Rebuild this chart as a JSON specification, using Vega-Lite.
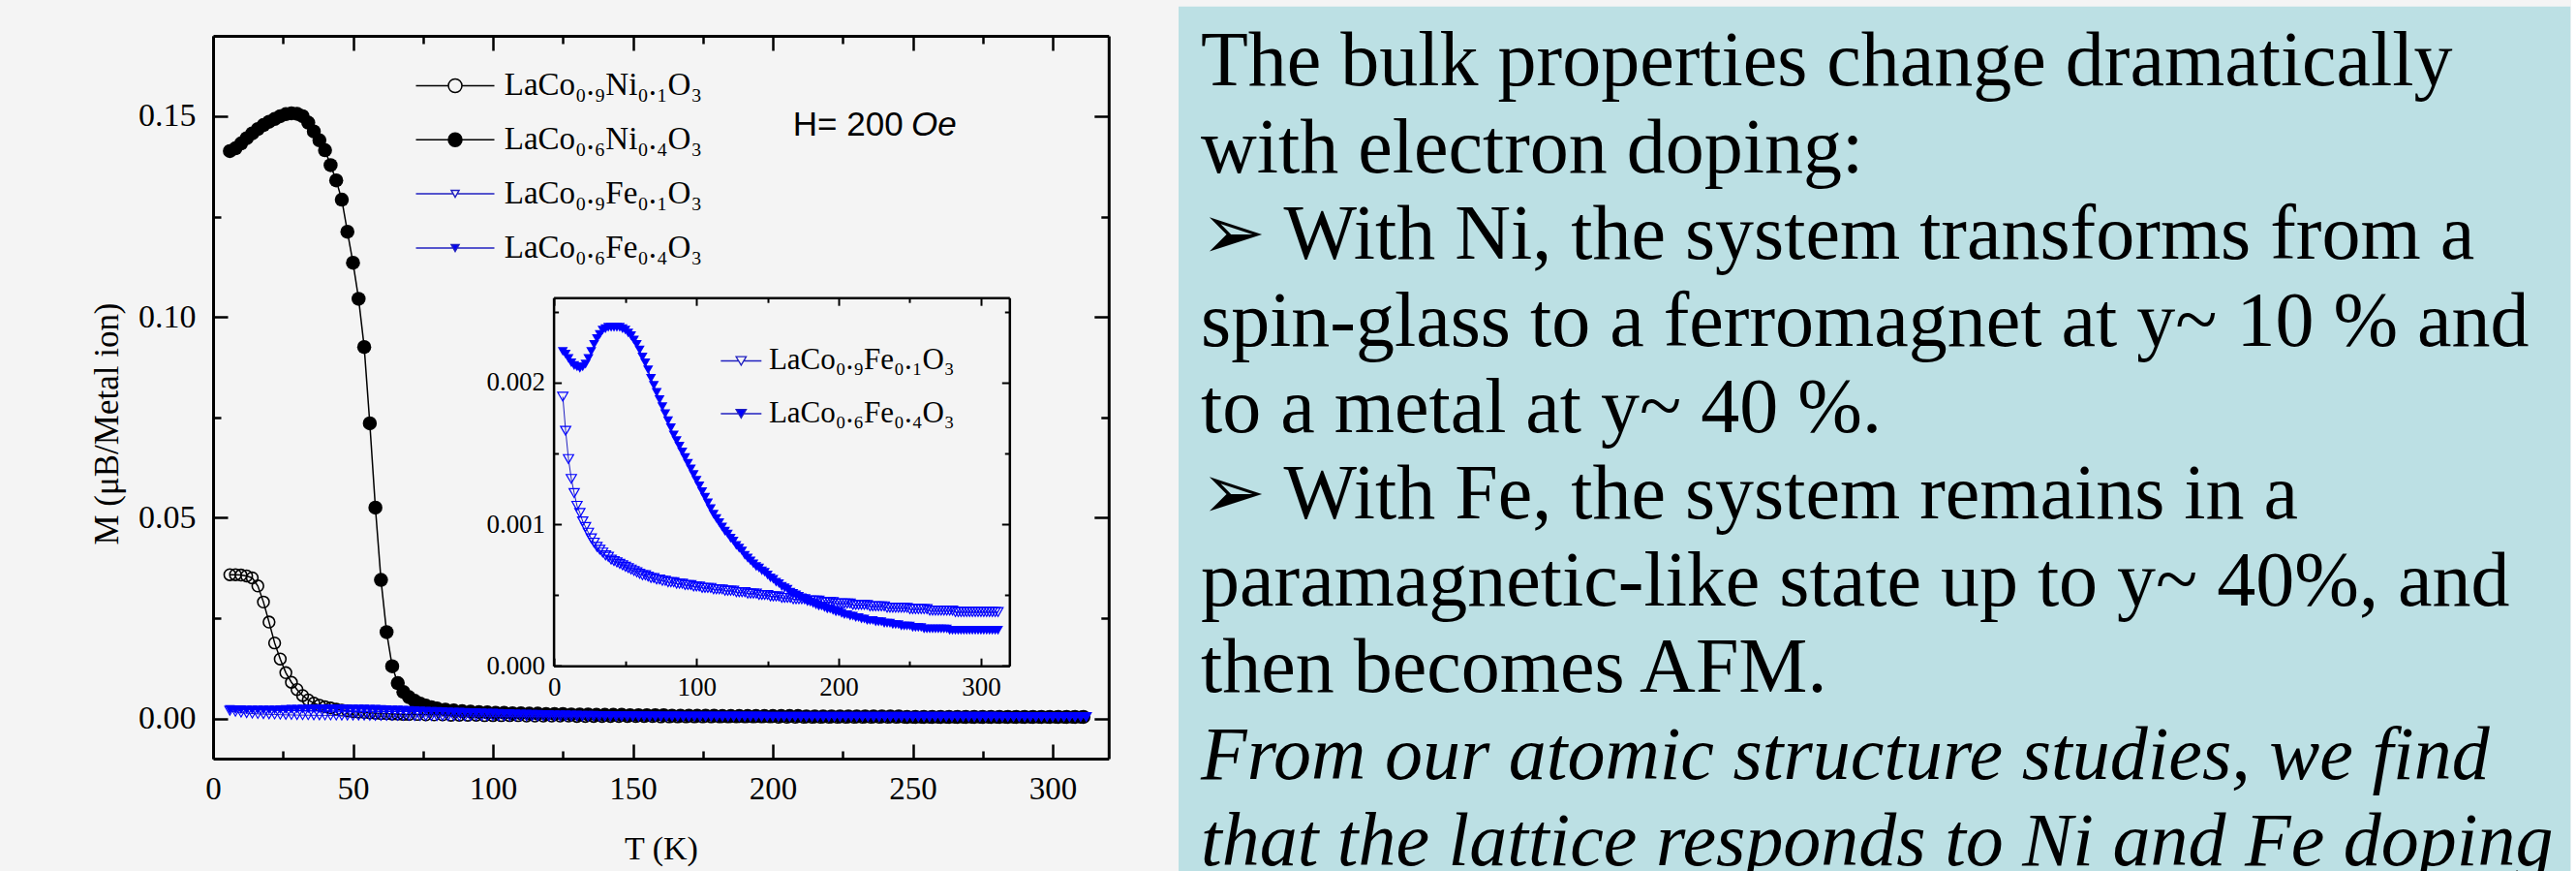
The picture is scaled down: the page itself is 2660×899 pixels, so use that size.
{
"$schema": "https://vega.github.io/schema/vega-lite/v6.json",
"background": "#f4f4f4",
"padding": {"left": 93, "top": 6.7, "right": 0, "bottom": 0},
"config": {
  "view": {"stroke": null},
  "axis": {"domainColor": "black", "tickColor": "black", "labelColor": "black", "labelFont": "Liberation Serif", "titleFont": "Liberation Serif", "titleColor": "black", "titleFontWeight": "normal", "grid": false, "labelFlush": false, "labelOverlap": false, "tickWidth": 2.5, "domainWidth": 3},
  "legend": {"labelFont": "Liberation Serif", "labelColor": "black"}
},
"datasets": {
"ni01": [{"T":6,"M":0.0358},{"T":8,"M":0.0358},{"T":10,"M":0.0357},{"T":12,"M":0.0355},{"T":14,"M":0.035},{"T":16,"M":0.033},{"T":18,"M":0.029},{"T":20,"M":0.024},{"T":22,"M":0.0188},{"T":24,"M":0.0148},{"T":26,"M":0.0114},{"T":28,"M":0.009},{"T":30,"M":0.0072},{"T":32,"M":0.0057},{"T":34,"M":0.0046},{"T":36,"M":0.0038},{"T":38,"M":0.0033},{"T":40,"M":0.0029},{"T":42,"M":0.0026},{"T":44,"M":0.0023},{"T":46,"M":0.0021},{"T":48,"M":0.0019},{"T":50,"M":0.0017},{"T":52,"M":0.0016},{"T":54,"M":0.0015},{"T":56,"M":0.0014},{"T":58,"M":0.0013},{"T":60,"M":0.0012},{"T":62,"M":0.0012},{"T":64,"M":0.0011},{"T":66,"M":0.0011},{"T":68,"M":0.001},{"T":70,"M":0.001},{"T":73,"M":0.001},{"T":76,"M":0.0009},{"T":79,"M":0.0009},{"T":82,"M":0.0009},{"T":85,"M":0.0008},{"T":88,"M":0.0008},{"T":91,"M":0.0008},{"T":94,"M":0.0008},{"T":97,"M":0.0007},{"T":100,"M":0.0007},{"T":103,"M":0.0007},{"T":106,"M":0.0007},{"T":109,"M":0.0007},{"T":112,"M":0.0006},{"T":115,"M":0.0006},{"T":118,"M":0.0006},{"T":121,"M":0.0006},{"T":124,"M":0.0006},{"T":127,"M":0.0006},{"T":130,"M":0.0005},{"T":133,"M":0.0005},{"T":136,"M":0.0005},{"T":139,"M":0.0005},{"T":142,"M":0.0005},{"T":145,"M":0.0005},{"T":148,"M":0.0005},{"T":151,"M":0.0005},{"T":154,"M":0.0005},{"T":157,"M":0.0005},{"T":160,"M":0.0004},{"T":163,"M":0.0004},{"T":166,"M":0.0004},{"T":169,"M":0.0004},{"T":172,"M":0.0004},{"T":175,"M":0.0004},{"T":178,"M":0.0004},{"T":181,"M":0.0004},{"T":184,"M":0.0004},{"T":187,"M":0.0004},{"T":190,"M":0.0004},{"T":193,"M":0.0004},{"T":196,"M":0.0004},{"T":199,"M":0.0004},{"T":202,"M":0.0003},{"T":205,"M":0.0003},{"T":208,"M":0.0003},{"T":211,"M":0.0003},{"T":214,"M":0.0003},{"T":217,"M":0.0003},{"T":220,"M":0.0003},{"T":223,"M":0.0003},{"T":226,"M":0.0003},{"T":229,"M":0.0003},{"T":232,"M":0.0003},{"T":235,"M":0.0003},{"T":238,"M":0.0003},{"T":241,"M":0.0003},{"T":244,"M":0.0003},{"T":247,"M":0.0003},{"T":250,"M":0.0003},{"T":253,"M":0.0003},{"T":256,"M":0.0003},{"T":259,"M":0.0003},{"T":262,"M":0.0003},{"T":265,"M":0.0003},{"T":268,"M":0.0003},{"T":271,"M":0.0003},{"T":274,"M":0.0003},{"T":277,"M":0.0003},{"T":280,"M":0.0003},{"T":283,"M":0.0003},{"T":286,"M":0.0003},{"T":289,"M":0.0003},{"T":292,"M":0.0003},{"T":295,"M":0.0003},{"T":298,"M":0.0003},{"T":301,"M":0.0003},{"T":304,"M":0.0003},{"T":307,"M":0.0003},{"T":310,"M":0.0003}],
"ni04": [{"T":6,"M":0.1413},{"T":8,"M":0.142},{"T":10,"M":0.1432},{"T":12,"M":0.1445},{"T":14,"M":0.1457},{"T":16,"M":0.1468},{"T":18,"M":0.1478},{"T":20,"M":0.1486},{"T":22,"M":0.1493},{"T":24,"M":0.15},{"T":26,"M":0.1505},{"T":28,"M":0.1507},{"T":30,"M":0.1506},{"T":32,"M":0.15},{"T":34,"M":0.1484},{"T":36,"M":0.1462},{"T":38,"M":0.144},{"T":40,"M":0.1415},{"T":42,"M":0.1378},{"T":44,"M":0.134},{"T":46,"M":0.1292},{"T":48,"M":0.1212},{"T":50,"M":0.1135},{"T":52,"M":0.1045},{"T":54,"M":0.0925},{"T":56,"M":0.0735},{"T":58,"M":0.0525},{"T":60,"M":0.0345},{"T":62,"M":0.0215},{"T":64,"M":0.013},{"T":66,"M":0.0088},{"T":68,"M":0.0066},{"T":70,"M":0.0053},{"T":72,"M":0.0044},{"T":74,"M":0.0037},{"T":76,"M":0.0032},{"T":78,"M":0.0028},{"T":80,"M":0.0025},{"T":83,"M":0.0022},{"T":86,"M":0.002},{"T":89,"M":0.0018},{"T":92,"M":0.0017},{"T":95,"M":0.0016},{"T":98,"M":0.0015},{"T":101,"M":0.0014},{"T":104,"M":0.0014},{"T":107,"M":0.0013},{"T":110,"M":0.0013},{"T":113,"M":0.0012},{"T":116,"M":0.0012},{"T":119,"M":0.0011},{"T":122,"M":0.0011},{"T":125,"M":0.0011},{"T":128,"M":0.001},{"T":131,"M":0.001},{"T":134,"M":0.001},{"T":137,"M":0.0009},{"T":140,"M":0.0009},{"T":143,"M":0.0009},{"T":146,"M":0.0009},{"T":149,"M":0.0008},{"T":152,"M":0.0008},{"T":155,"M":0.0008},{"T":158,"M":0.0008},{"T":161,"M":0.0008},{"T":164,"M":0.0007},{"T":167,"M":0.0007},{"T":170,"M":0.0007},{"T":173,"M":0.0007},{"T":176,"M":0.0007},{"T":179,"M":0.0007},{"T":182,"M":0.0006},{"T":185,"M":0.0006},{"T":188,"M":0.0006},{"T":191,"M":0.0006},{"T":194,"M":0.0006},{"T":197,"M":0.0006},{"T":200,"M":0.0006},{"T":203,"M":0.0006},{"T":206,"M":0.0006},{"T":209,"M":0.0006},{"T":212,"M":0.0005},{"T":215,"M":0.0005},{"T":218,"M":0.0005},{"T":221,"M":0.0005},{"T":224,"M":0.0005},{"T":227,"M":0.0005},{"T":230,"M":0.0005},{"T":233,"M":0.0005},{"T":236,"M":0.0005},{"T":239,"M":0.0005},{"T":242,"M":0.0005},{"T":245,"M":0.0005},{"T":248,"M":0.0004},{"T":251,"M":0.0004},{"T":254,"M":0.0004},{"T":257,"M":0.0004},{"T":260,"M":0.0004},{"T":263,"M":0.0004},{"T":266,"M":0.0004},{"T":269,"M":0.0004},{"T":272,"M":0.0004},{"T":275,"M":0.0004},{"T":278,"M":0.0004},{"T":281,"M":0.0004},{"T":284,"M":0.0004},{"T":287,"M":0.0004},{"T":290,"M":0.0004},{"T":293,"M":0.0004},{"T":296,"M":0.0004},{"T":299,"M":0.0004},{"T":302,"M":0.0004},{"T":305,"M":0.0004},{"T":308,"M":0.0004},{"T":311,"M":0.0004}],
"fe01": [{"T":6,"M":0.0019},{"T":8,"M":0.00166},{"T":10,"M":0.00146},{"T":12,"M":0.00132},{"T":14,"M":0.00122},{"T":16,"M":0.00113},{"T":18,"M":0.00108},{"T":20,"M":0.00102},{"T":22,"M":0.00098},{"T":24,"M":0.00094},{"T":26,"M":0.0009},{"T":28,"M":0.00087},{"T":30,"M":0.00084},{"T":32,"M":0.00082},{"T":34,"M":0.0008},{"T":36,"M":0.00078},{"T":38,"M":0.00077},{"T":40,"M":0.00075},{"T":42,"M":0.00074},{"T":44,"M":0.00073},{"T":46,"M":0.00072},{"T":48,"M":0.00071},{"T":50,"M":0.0007},{"T":52,"M":0.00069},{"T":54,"M":0.00068},{"T":56,"M":0.00067},{"T":58,"M":0.00066},{"T":60,"M":0.00065},{"T":62,"M":0.00064},{"T":64,"M":0.00064},{"T":66,"M":0.00063},{"T":68,"M":0.00062},{"T":70,"M":0.00062},{"T":72,"M":0.00061},{"T":74,"M":0.00061},{"T":76,"M":0.0006},{"T":78,"M":0.0006},{"T":80,"M":0.00059},{"T":82,"M":0.00059},{"T":84,"M":0.00059},{"T":86,"M":0.00058},{"T":88,"M":0.00058},{"T":90,"M":0.00058},{"T":92,"M":0.00057},{"T":94,"M":0.00057},{"T":96,"M":0.00057},{"T":98,"M":0.00056},{"T":100,"M":0.00056},{"T":102,"M":0.00056},{"T":104,"M":0.00055},{"T":106,"M":0.00055},{"T":108,"M":0.00055},{"T":110,"M":0.00055},{"T":112,"M":0.00054},{"T":114,"M":0.00054},{"T":116,"M":0.00054},{"T":118,"M":0.00054},{"T":120,"M":0.00053},{"T":122,"M":0.00053},{"T":124,"M":0.00053},{"T":126,"M":0.00053},{"T":128,"M":0.00052},{"T":130,"M":0.00052},{"T":132,"M":0.00052},{"T":134,"M":0.00052},{"T":136,"M":0.00051},{"T":138,"M":0.00051},{"T":140,"M":0.00051},{"T":142,"M":0.00051},{"T":144,"M":0.0005},{"T":146,"M":0.0005},{"T":148,"M":0.0005},{"T":150,"M":0.0005},{"T":152,"M":0.00049},{"T":154,"M":0.00049},{"T":156,"M":0.00049},{"T":158,"M":0.00049},{"T":160,"M":0.00048},{"T":162,"M":0.00048},{"T":164,"M":0.00048},{"T":166,"M":0.00048},{"T":168,"M":0.00047},{"T":170,"M":0.00047},{"T":172,"M":0.00047},{"T":174,"M":0.00047},{"T":176,"M":0.00047},{"T":178,"M":0.00046},{"T":180,"M":0.00046},{"T":182,"M":0.00046},{"T":184,"M":0.00046},{"T":186,"M":0.00046},{"T":188,"M":0.00045},{"T":190,"M":0.00045},{"T":192,"M":0.00045},{"T":194,"M":0.00045},{"T":196,"M":0.00045},{"T":198,"M":0.00044},{"T":200,"M":0.00044},{"T":202,"M":0.00044},{"T":204,"M":0.00044},{"T":206,"M":0.00044},{"T":208,"M":0.00044},{"T":210,"M":0.00043},{"T":212,"M":0.00043},{"T":214,"M":0.00043},{"T":216,"M":0.00043},{"T":218,"M":0.00043},{"T":220,"M":0.00043},{"T":222,"M":0.00042},{"T":224,"M":0.00042},{"T":226,"M":0.00042},{"T":228,"M":0.00042},{"T":230,"M":0.00042},{"T":232,"M":0.00042},{"T":234,"M":0.00041},{"T":236,"M":0.00041},{"T":238,"M":0.00041},{"T":240,"M":0.00041},{"T":242,"M":0.00041},{"T":244,"M":0.00041},{"T":246,"M":0.00041},{"T":248,"M":0.00041},{"T":250,"M":0.0004},{"T":252,"M":0.0004},{"T":254,"M":0.0004},{"T":256,"M":0.0004},{"T":258,"M":0.0004},{"T":260,"M":0.0004},{"T":262,"M":0.0004},{"T":264,"M":0.00039},{"T":266,"M":0.00039},{"T":268,"M":0.00039},{"T":270,"M":0.00039},{"T":272,"M":0.00039},{"T":274,"M":0.00039},{"T":276,"M":0.00039},{"T":278,"M":0.00039},{"T":280,"M":0.00039},{"T":282,"M":0.00038},{"T":284,"M":0.00038},{"T":286,"M":0.00038},{"T":288,"M":0.00038},{"T":290,"M":0.00038},{"T":292,"M":0.00038},{"T":294,"M":0.00038},{"T":296,"M":0.00038},{"T":298,"M":0.00038},{"T":300,"M":0.00038},{"T":302,"M":0.00038},{"T":304,"M":0.00038},{"T":306,"M":0.00038},{"T":308,"M":0.00038},{"T":310,"M":0.00038},{"T":312,"M":0.00038}],
"fe04": [{"T":6,"M":0.00222},{"T":8,"M":0.0022},{"T":10,"M":0.00217},{"T":12,"M":0.00214},{"T":14,"M":0.00212},{"T":16,"M":0.00211},{"T":18,"M":0.0021},{"T":20,"M":0.00211},{"T":22,"M":0.00213},{"T":24,"M":0.00217},{"T":26,"M":0.00222},{"T":28,"M":0.00227},{"T":30,"M":0.00231},{"T":32,"M":0.00234},{"T":34,"M":0.00237},{"T":36,"M":0.00238},{"T":38,"M":0.00239},{"T":40,"M":0.00239},{"T":42,"M":0.00239},{"T":44,"M":0.00239},{"T":46,"M":0.00239},{"T":48,"M":0.00238},{"T":50,"M":0.00237},{"T":52,"M":0.00235},{"T":54,"M":0.00233},{"T":56,"M":0.0023},{"T":58,"M":0.00227},{"T":60,"M":0.00223},{"T":62,"M":0.00218},{"T":64,"M":0.00214},{"T":66,"M":0.00209},{"T":68,"M":0.00203},{"T":70,"M":0.00198},{"T":72,"M":0.00193},{"T":74,"M":0.00188},{"T":76,"M":0.00183},{"T":78,"M":0.00178},{"T":80,"M":0.00173},{"T":82,"M":0.00168},{"T":84,"M":0.00163},{"T":86,"M":0.00159},{"T":88,"M":0.00155},{"T":90,"M":0.00151},{"T":92,"M":0.00147},{"T":94,"M":0.00143},{"T":96,"M":0.00139},{"T":98,"M":0.00135},{"T":100,"M":0.00131},{"T":102,"M":0.00127},{"T":104,"M":0.00123},{"T":106,"M":0.00119},{"T":108,"M":0.00115},{"T":110,"M":0.00111},{"T":112,"M":0.00107},{"T":114,"M":0.00104},{"T":116,"M":0.00101},{"T":118,"M":0.00098},{"T":120,"M":0.00095},{"T":122,"M":0.00093},{"T":124,"M":0.0009},{"T":126,"M":0.00088},{"T":128,"M":0.00085},{"T":130,"M":0.00083},{"T":132,"M":0.00081},{"T":134,"M":0.00078},{"T":136,"M":0.00076},{"T":138,"M":0.00074},{"T":140,"M":0.00072},{"T":142,"M":0.0007},{"T":144,"M":0.00069},{"T":146,"M":0.00067},{"T":148,"M":0.00066},{"T":150,"M":0.00064},{"T":152,"M":0.00062},{"T":154,"M":0.00061},{"T":156,"M":0.00059},{"T":158,"M":0.00058},{"T":160,"M":0.00056},{"T":162,"M":0.00055},{"T":164,"M":0.00054},{"T":166,"M":0.00052},{"T":168,"M":0.00051},{"T":170,"M":0.0005},{"T":172,"M":0.00049},{"T":174,"M":0.00048},{"T":176,"M":0.00047},{"T":178,"M":0.00046},{"T":180,"M":0.00045},{"T":182,"M":0.00044},{"T":184,"M":0.00043},{"T":186,"M":0.00042},{"T":188,"M":0.00042},{"T":190,"M":0.00041},{"T":192,"M":0.0004},{"T":194,"M":0.0004},{"T":196,"M":0.00039},{"T":198,"M":0.00038},{"T":200,"M":0.00038},{"T":202,"M":0.00037},{"T":204,"M":0.00036},{"T":206,"M":0.00036},{"T":208,"M":0.00035},{"T":210,"M":0.00035},{"T":212,"M":0.00034},{"T":214,"M":0.00034},{"T":216,"M":0.00033},{"T":218,"M":0.00033},{"T":220,"M":0.00032},{"T":222,"M":0.00032},{"T":224,"M":0.00032},{"T":226,"M":0.00031},{"T":228,"M":0.00031},{"T":230,"M":0.00031},{"T":232,"M":0.0003},{"T":234,"M":0.0003},{"T":236,"M":0.0003},{"T":238,"M":0.00029},{"T":240,"M":0.00029},{"T":242,"M":0.00029},{"T":244,"M":0.00028},{"T":246,"M":0.00028},{"T":248,"M":0.00028},{"T":250,"M":0.00028},{"T":252,"M":0.00027},{"T":254,"M":0.00027},{"T":256,"M":0.00027},{"T":258,"M":0.00027},{"T":260,"M":0.00026},{"T":262,"M":0.00026},{"T":264,"M":0.00026},{"T":266,"M":0.00026},{"T":268,"M":0.00026},{"T":270,"M":0.00026},{"T":272,"M":0.00026},{"T":274,"M":0.00026},{"T":276,"M":0.00026},{"T":278,"M":0.00025},{"T":280,"M":0.00025},{"T":282,"M":0.00025},{"T":284,"M":0.00025},{"T":286,"M":0.00025},{"T":288,"M":0.00025},{"T":290,"M":0.00025},{"T":292,"M":0.00025},{"T":294,"M":0.00025},{"T":296,"M":0.00025},{"T":298,"M":0.00025},{"T":300,"M":0.00025},{"T":302,"M":0.00025},{"T":304,"M":0.00025},{"T":306,"M":0.00025},{"T":308,"M":0.00025},{"T":310,"M":0.00025},{"T":312,"M":0.00025}]
},
"spacing": 70,
"hconcat": [
{
 "spacing": 27.3,
 "vconcat": [
 {"width": 10, "height": 1, "data": {"values": []}, "mark": "point"},
 {
  "width": 924.8,
  "height": 746,
  "layer": [
    {
      "layer": [
        {"data": {"name": "ni01"}, "mark": {"type": "line", "color": "black", "strokeWidth": 1.5},
         "encoding": {
           "x": {"field": "T", "type": "quantitative", "scale": {"domain": [0, 320], "nice": false, "zero": false},
                 "axis": {"orient": "bottom", "values": [0,50,100,150,200,250,300], "tickSize": -15, "labelFontSize": 33, "labelPadding": 31, "title": "T (K)", "titleFontSize": 34, "titlePadding": 28}},
           "y": {"field": "M", "type": "quantitative", "scale": {"domain": [-0.01, 0.17], "nice": false, "zero": false},
                 "axis": {"orient": "left", "values": [0,0.05,0.1,0.15], "format": ".2f", "tickSize": -15, "labelFontSize": 34, "labelPadding": 33, "title": "M (μB/Metal ion)", "titleFontSize": 35, "titlePadding": 14, "titleY": 400}}
         }},
        {"data": {"name": "ni01"}, "mark": {"type": "point", "shape": "circle", "filled": false, "stroke": "black", "strokeWidth": 1.6, "size": 140, "opacity": 1},
         "encoding": {
           "x": {"field": "T", "type": "quantitative", "scale": {"domain": [0, 320], "nice": false, "zero": false},
                 "axis": {"orient": "bottom", "values": [25,75,125,175,225,275], "tickSize": -8, "domain": false, "labels": false, "title": null}},
           "y": {"field": "M", "type": "quantitative", "scale": {"domain": [-0.01, 0.17], "nice": false, "zero": false},
                 "axis": {"orient": "left", "values": [0.025,0.075,0.125], "tickSize": -8, "domain": false, "labels": false, "title": null}}
         }},
        {"data": {"name": "ni04"}, "mark": {"type": "line", "color": "black", "strokeWidth": 1.5},
         "encoding": {
           "x": {"field": "T", "type": "quantitative", "scale": {"domain": [0, 320], "nice": false, "zero": false},
                 "axis": {"orient": "top", "values": [0,50,100,150,200,250,300], "tickSize": -15, "labels": false, "title": null}},
           "y": {"field": "M", "type": "quantitative", "scale": {"domain": [-0.01, 0.17], "nice": false, "zero": false},
                 "axis": {"orient": "right", "values": [0,0.05,0.1,0.15], "tickSize": -15, "labels": false, "title": null}}
         }},
        {"data": {"name": "ni04"}, "mark": {"type": "point", "shape": "circle", "filled": true, "color": "black", "size": 210, "opacity": 1},
         "encoding": {
           "x": {"field": "T", "type": "quantitative", "scale": {"domain": [0, 320], "nice": false, "zero": false},
                 "axis": {"orient": "top", "values": [25,75,125,175,225,275], "tickSize": -8, "domain": false, "labels": false, "title": null}},
           "y": {"field": "M", "type": "quantitative", "scale": {"domain": [-0.01, 0.17], "nice": false, "zero": false},
                 "axis": {"orient": "right", "values": [0.025,0.075,0.125], "tickSize": -8, "domain": false, "labels": false, "title": null}}
         }},
        {"data": {"name": "fe01"}, "mark": {"type": "line", "color": "#2020c0", "strokeWidth": 1},
         "encoding": {"x": {"field": "T", "type": "quantitative", "scale": {"domain": [0, 320], "nice": false, "zero": false}, "axis": null},
                      "y": {"field": "M", "type": "quantitative", "scale": {"domain": [-0.01, 0.17], "nice": false, "zero": false}, "axis": null}}},
        {"data": {"name": "fe01"}, "mark": {"type": "point", "shape": "triangle-down", "filled": false, "stroke": "#0000ff", "strokeWidth": 1.1, "size": 110, "opacity": 1},
         "encoding": {"x": {"field": "T", "type": "quantitative", "scale": {"domain": [0, 320], "nice": false, "zero": false}, "axis": null},
                      "y": {"field": "M", "type": "quantitative", "scale": {"domain": [-0.01, 0.17], "nice": false, "zero": false}, "axis": null}}},
        {"data": {"name": "fe04"}, "mark": {"type": "line", "color": "#2020c0", "strokeWidth": 1},
         "encoding": {"x": {"field": "T", "type": "quantitative", "scale": {"domain": [0, 320], "nice": false, "zero": false}, "axis": null},
                      "y": {"field": "M", "type": "quantitative", "scale": {"domain": [-0.01, 0.17], "nice": false, "zero": false}, "axis": null}}},
        {"data": {"name": "fe04"}, "mark": {"type": "point", "shape": "triangle-down", "filled": true, "color": "#0000ff", "size": 110, "opacity": 1},
         "encoding": {"x": {"field": "T", "type": "quantitative", "scale": {"domain": [0, 320], "nice": false, "zero": false}, "axis": null},
                      "y": {"field": "M", "type": "quantitative", "scale": {"domain": [-0.01, 0.17], "nice": false, "zero": false}, "axis": null}}},
        {"data": {"values": [{"note": "H= 200"}]}, "mark": {"type": "text", "font": "Liberation Sans", "fontSize": 35, "align": "left", "baseline": "middle", "color": "black"},
         "encoding": {"x": {"datum": 207.2, "type": "quantitative", "scale": {"domain": [0, 320], "nice": false, "zero": false}, "axis": null},
                      "y": {"datum": 0.1478, "type": "quantitative", "scale": {"domain": [-0.01, 0.17], "nice": false, "zero": false}, "axis": null},
                      "text": {"field": "note"}}},
        {"data": {"values": [{"note": "Oe"}]}, "mark": {"type": "text", "font": "Liberation Sans", "fontSize": 35, "fontStyle": "italic", "align": "left", "baseline": "middle", "color": "black"},
         "encoding": {"x": {"datum": 249.5, "type": "quantitative", "scale": {"domain": [0, 320], "nice": false, "zero": false}, "axis": null},
                      "y": {"datum": 0.1478, "type": "quantitative", "scale": {"domain": [-0.01, 0.17], "nice": false, "zero": false}, "axis": null},
                      "text": {"field": "note"}}}
      ],
      "resolve": {"axis": {"x": "independent", "y": "independent"}}
    },
    {
      "layer": [
        {"data": {"name": "fe01"}, "mark": {"type": "line", "color": "#2020c0", "strokeWidth": 1},
         "encoding": {
           "x": {"field": "T", "type": "quantitative", "scale": {"domain": [-0.5, 320], "range": [351.6, 822.3], "nice": false, "zero": false},
                 "axis": {"orient": "bottom", "offset": -95.8, "values": [0,100,200,300], "tickSize": -8, "tickWidth": 2, "domainWidth": 2.5, "labelFontSize": 27, "labelPadding": 17, "title": null}},
           "y": {"field": "M", "type": "quantitative", "scale": {"domain": [0, 0.0026], "range": [650.2, 270.2], "nice": false, "zero": false},
                 "axis": {"orient": "left", "offset": -351.6, "values": [0,0.001,0.002], "format": ".3f", "tickSize": -8, "tickWidth": 2, "domainWidth": 2.5, "labelFontSize": 27, "labelPadding": 17, "title": null}}
         }},
        {"data": {"name": "fe01"}, "mark": {"type": "point", "shape": "triangle-down", "filled": false, "stroke": "#0000ff", "strokeWidth": 1.2, "size": 110, "opacity": 1},
         "encoding": {
           "x": {"field": "T", "type": "quantitative", "scale": {"domain": [-0.5, 320], "range": [351.6, 822.3], "nice": false, "zero": false},
                 "axis": {"orient": "bottom", "offset": -95.8, "values": [50,150,250], "tickSize": -5, "tickWidth": 2, "domain": false, "labels": false, "title": null}},
           "y": {"field": "M", "type": "quantitative", "scale": {"domain": [0, 0.0026], "range": [650.2, 270.2], "nice": false, "zero": false},
                 "axis": {"orient": "left", "offset": -351.6, "values": [0.0005,0.0015,0.0025], "tickSize": -5, "tickWidth": 2, "domain": false, "labels": false, "title": null}}
         }},
        {"data": {"name": "fe04"}, "mark": {"type": "line", "color": "#2020c0", "strokeWidth": 1},
         "encoding": {
           "x": {"field": "T", "type": "quantitative", "scale": {"domain": [-0.5, 320], "range": [351.6, 822.3], "nice": false, "zero": false},
                 "axis": {"orient": "top", "offset": -270.2, "values": [0,100,200,300], "tickSize": -8, "tickWidth": 2, "domainWidth": 2.5, "labels": false, "title": null}},
           "y": {"field": "M", "type": "quantitative", "scale": {"domain": [0, 0.0026], "range": [650.2, 270.2], "nice": false, "zero": false},
                 "axis": {"orient": "right", "offset": -102.5, "values": [0,0.001,0.002], "tickSize": -8, "tickWidth": 2, "domainWidth": 2.5, "labels": false, "title": null}}
         }},
        {"data": {"name": "fe04"}, "mark": {"type": "point", "shape": "triangle-down", "filled": true, "color": "#0000ff", "size": 110, "opacity": 1},
         "encoding": {
           "x": {"field": "T", "type": "quantitative", "scale": {"domain": [-0.5, 320], "range": [351.6, 822.3], "nice": false, "zero": false},
                 "axis": {"orient": "top", "offset": -270.2, "values": [50,150,250], "tickSize": -5, "tickWidth": 2, "domain": false, "labels": false, "title": null}},
           "y": {"field": "M", "type": "quantitative", "scale": {"domain": [0, 0.0026], "range": [650.2, 270.2], "nice": false, "zero": false},
                 "axis": {"orient": "right", "offset": -102.5, "values": [0.0005,0.0015,0.0025], "tickSize": -5, "tickWidth": 2, "domain": false, "labels": false, "title": null}}
         }}
      ],
      "resolve": {"axis": {"x": "independent", "y": "independent"}}
    },
    {
      "data": {"values": []},
      "mark": {"type": "point", "opacity": 1, "filled": true},
      "encoding": {
        "shape": {"field": "series", "type": "nominal",
          "scale": {"domain": ["LaCo₀.₉Ni₀.₁O₃", "LaCo₀.₆Ni₀.₄O₃", "LaCo₀.₉Fe₀.₁O₃", "LaCo₀.₆Fe₀.₄O₃"],
                    "range": ["M-2.025,0H-0.35M0.35,0H2.025M0.35,0A0.35,0.35,0,1,1,-0.35,0A0.35,0.35,0,1,1,0.35,0Z", "M-2.025,0H-0.35M0.35,0H2.025M0.35,0A0.35,0.35,0,1,1,-0.35,0A0.35,0.35,0,1,1,0.35,0Z", "M-2.025,0H-0.12M0.12,0H2.025M-0.2,-0.175H0.2L0,0.175Z", "M-2.025,0H-0.12M0.12,0H2.025M-0.2,-0.175H0.2L0,0.175Z"]},
          "legend": {"orient": "none", "legendX": 229, "legendY": 30.5, "title": null, "padding": 0, "symbolSize": 1600, "symbolStrokeWidth": 1.5, "symbolFillColor": "transparent", "symbolOpacity": 1, "labelFontSize": 33, "labelOffset": 29.8, "labelLimit": 600, "rowPadding": 17.8}},
        "stroke": {"field": "series", "type": "nominal",
          "scale": {"domain": ["LaCo₀.₉Ni₀.₁O₃", "LaCo₀.₆Ni₀.₄O₃", "LaCo₀.₉Fe₀.₁O₃", "LaCo₀.₆Fe₀.₄O₃"], "range": ["black", "black", "#2020c0", "#2020c0"]},
          "legend": {"orient": "none", "legendX": 229, "legendY": 30.5, "title": null, "padding": 0, "symbolSize": 1600, "symbolStrokeWidth": 1.5, "symbolFillColor": "transparent", "symbolOpacity": 1, "labelFontSize": 33, "labelOffset": 29.8, "labelLimit": 600, "rowPadding": 17.8}},
        "fill": {"field": "series", "type": "nominal",
          "scale": {"domain": ["LaCo₀.₉Ni₀.₁O₃", "LaCo₀.₆Ni₀.₄O₃", "LaCo₀.₉Fe₀.₁O₃", "LaCo₀.₆Fe₀.₄O₃"], "range": ["transparent", "black", "transparent", "#0000ff"]},
          "legend": {"orient": "none", "legendX": 229, "legendY": 30.5, "title": null, "padding": 0, "symbolSize": 1600, "symbolStrokeWidth": 1.5, "symbolFillColor": "transparent", "symbolOpacity": 1, "labelFontSize": 33, "labelOffset": 29.8, "labelLimit": 600, "rowPadding": 17.8}}
      }
    },
    {
      "data": {"values": []},
      "mark": {"type": "point", "opacity": 1, "filled": true},
      "encoding": {
        "shape": {"field": "series", "type": "nominal",
          "scale": {"domain": ["LaCo₀.₉Fe₀.₁O₃", "LaCo₀.₆Fe₀.₄O₃"],
                    "range": ["M-1,0H-0.13M0.13,0H1M-0.25,-0.21H0.25L0,0.21Z", "M-1,0H-0.13M0.13,0H1M-0.25,-0.21H0.25L0,0.21Z"]},
          "legend": {"orient": "none", "legendX": 523.3, "legendY": 313.5, "title": null, "padding": 0, "symbolSize": 1764, "symbolStrokeWidth": 1.3, "symbolFillColor": "transparent", "symbolOpacity": 1, "labelFontSize": 31, "labelOffset": 6.6, "labelLimit": 600, "rowPadding": 17.5}},
        "stroke": {"field": "series", "type": "nominal",
          "scale": {"domain": ["LaCo₀.₉Fe₀.₁O₃", "LaCo₀.₆Fe₀.₄O₃"], "range": ["#2020c0", "#2020c0"]},
          "legend": {"orient": "none", "legendX": 523.3, "legendY": 313.5, "title": null, "padding": 0, "symbolSize": 1764, "symbolStrokeWidth": 1.3, "symbolFillColor": "transparent", "symbolOpacity": 1, "labelFontSize": 31, "labelOffset": 6.6, "labelLimit": 600, "rowPadding": 17.5}},
        "fill": {"field": "series", "type": "nominal",
          "scale": {"domain": ["LaCo₀.₉Fe₀.₁O₃", "LaCo₀.₆Fe₀.₄O₃"], "range": ["transparent", "#0000ff"]},
          "legend": {"orient": "none", "legendX": 523.3, "legendY": 313.5, "title": null, "padding": 0, "symbolSize": 1764, "symbolStrokeWidth": 1.3, "symbolFillColor": "transparent", "symbolOpacity": 1, "labelFontSize": 31, "labelOffset": 6.6, "labelLimit": 600, "rowPadding": 17.5}}
      }
    }
  ],
  "resolve": {
    "scale": {"x": "independent", "y": "independent", "shape": "independent", "stroke": "independent", "fill": "independent"},
    "axis": {"x": "independent", "y": "independent"},
    "legend": {"shape": "independent", "stroke": "independent", "fill": "independent"}
  }
 }
 ]
},
{
  "width": 1437.3,
  "height": 900,
  "view": {"fill": "#bce0e4", "stroke": null},
  "layer": [
    {"data": {"values": [
      {"line": 1, "text": "The bulk properties change dramatically"},
      {"line": 2, "text": "with electron doping:"},
      {"line": 3, "text": "➢ With Ni, the system transforms from a"},
      {"line": 4, "text": "spin-glass to a ferromagnet at y~ 10 % and"},
      {"line": 5, "text": "to a metal at y~ 40 %."},
      {"line": 6, "text": "➢ With Fe, the system remains in  a"},
      {"line": 7, "text": "paramagnetic-like state up to y~ 40%, and"},
      {"line": 8, "text": "then becomes AFM."}
     ]},
     "mark": {"type": "text", "align": "left", "baseline": "alphabetic", "font": "Liberation Serif", "fontSize": 80, "color": "black", "dx": 23},
     "encoding": {
       "x": {"value": 0},
       "y": {"field": "line", "type": "quantitative", "scale": {"domain": [0.0872, 10.154], "reverse": true, "nice": false, "zero": false}, "axis": null},
       "text": {"field": "text"}
     }},
    {"data": {"values": [
      {"line": 9, "text": "From our atomic structure studies, we find"},
      {"line": 10, "text": "that the lattice responds to Ni and Fe doping"}
     ]},
     "mark": {"type": "text", "align": "left", "baseline": "alphabetic", "font": "Liberation Serif", "fontSize": 78, "fontStyle": "italic", "color": "black", "dx": 23},
     "encoding": {
       "x": {"value": 0},
       "y": {"field": "line", "type": "quantitative", "scale": {"domain": [0.0872, 10.154], "reverse": true, "nice": false, "zero": false}, "axis": null},
       "text": {"field": "text"}
     }}
  ]
}
]
}
